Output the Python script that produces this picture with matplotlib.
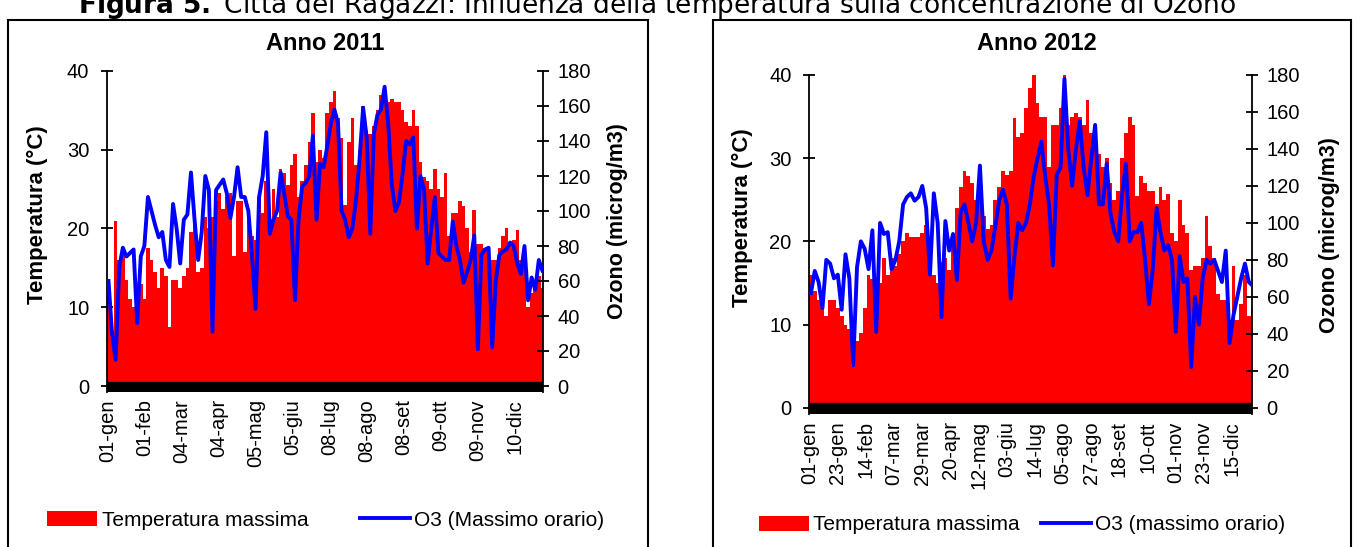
import matplotlib
matplotlib.use('Agg')
import matplotlib.pyplot as plt
from matplotlib.patches import Patch, Rectangle
from matplotlib.lines import Line2D

# values, one value every 3 days (bin)
BIN = 3

days_2011 = 365
temp_2011 = [12, 7, 21, 16, 17.5, 13.5, 11, 10, 10, 13,
             11, 17.5, 16, 14.5, 12.5, 15, 14, 7.5, 13.5, 13.5,
             12.5, 14, 15, 19.5, 22, 14.5, 15, 21.5, 20, 21.5,
             23.5, 24.5, 22.5, 24, 24.5, 16.5, 23.5, 23.5, 17, 22,
             19, 18.5, 24, 22, 26, 21, 25, 21.5, 27.5, 27,
             25.5, 28, 29.5, 24, 26, 28, 31, 34.7, 28.5, 30,
             29, 34.7, 36, 37.5, 34, 31.5, 23, 31, 34, 28,
             30, 35.5, 32.5, 32, 33, 35, 37, 37.6, 36, 36.5,
             36, 36, 35, 33.5, 33, 35, 33, 28.5, 26.5, 26,
             25, 27.5, 25, 24, 27, 19, 22, 22, 23.5, 22.8,
             20, 17, 22.4, 18, 18, 17.5, 17.3, 16, 16, 17.5,
             19, 20, 18, 18.5, 19.8, 16, 17.7, 10, 11.8, 13,
             14, 12.5]
ozone_2011 = [60, 30, 15, 68, 79, 74, 76, 78, 36, 74,
              80, 108, 100, 92, 85, 88, 72, 68, 104, 90,
              70, 95, 98, 122, 95, 72, 88, 120, 112, 31,
              112, 115, 118, 110, 96, 108, 125, 108, 108, 100,
              75, 44, 108, 120, 145, 87, 95, 100, 122, 110,
              97, 95, 49, 95, 114, 116, 120, 143, 95, 127,
              125, 137, 150, 158, 150, 100, 95, 85, 90, 106,
              129, 159, 142, 87, 144, 155, 158, 171, 150, 115,
              100, 105, 121, 140, 138, 142, 90, 120, 112, 70,
              90, 108, 76, 74, 72, 72, 94, 80, 72, 59,
              65, 72, 86, 21, 75, 78, 79, 22, 60, 75,
              77, 78, 82, 80, 70, 64, 80, 49, 62, 55,
              72, 66]
labels_2011 = ['01-gen', '01-feb', '04-mar', '04-apr', '05-mag', '05-giu',
               '08-lug', '08-ago', '08-set', '09-ott', '09-nov', '10-dic']
label_step_2011 = 31

days_2012 = 346
temp_2012 = [16, 14, 13, 12, 11, 13, 13, 12, 11, 10,
             9.5, 5, 8, 9, 12, 16, 15.5, 12, 15, 18,
             16, 18, 17, 18.5, 20, 21, 20.5, 20.5, 20.5, 21,
             22, 16, 16, 15, 17.5, 18, 16.5, 20.5, 24, 26.5,
             28.5, 27.8, 27, 25, 26, 23, 21.5, 22, 25, 26.5,
             28.5, 28, 28.5, 34.8, 32.5, 33, 36, 38.4, 40.2, 36.6,
             35, 35, 29, 34, 34, 36, 40.6, 34, 35, 35.4,
             35, 34, 37, 33, 34, 30.5, 29, 30, 27, 25,
             26, 30, 33, 35, 34, 25.5, 27.8, 27, 26, 26,
             24.5, 26.5, 25, 25.7, 21, 20, 25, 22, 21, 16.5,
             17, 17, 18, 23, 19.4, 18, 13.7, 13, 13, 10.5,
             17, 10.5, 12.5, 16, 11, 12]
ozone_2012 = [62, 74, 68, 54, 80, 78, 70, 72, 53, 83,
              70, 23, 76, 90, 86, 75, 96, 41, 100, 94,
              95, 75, 80, 90, 110, 114, 116, 112, 114, 120,
              108, 72, 116, 100, 49, 101, 85, 94, 69, 106,
              110, 100, 90, 100, 131, 90, 80, 85, 98, 112,
              118, 110, 59, 82, 100, 96, 100, 110, 125, 135,
              144, 125, 110, 77, 126, 130, 178, 140, 120, 140,
              155, 130, 115, 135, 153, 110, 110, 132, 105, 95,
              90, 115, 132, 90, 95, 95, 100, 80, 56, 75,
              108, 95, 85, 88, 80, 41, 82, 68, 70, 22,
              60, 45, 70, 80, 78, 80, 74, 68, 85, 35,
              50, 60, 70, 78, 68, 66]
labels_2012 = ['01-gen', '23-gen', '14-feb', '07-mar', '29-mar', '20-apr',
               '12-mag', '03-giu', '14-lug', '05-ago', '27-ago', '18-set',
               '10-ott', '01-nov', '23-nov', '15-dic']
label_step_2012 = 22

W, H = 1362, 547

plt.rcParams['font.family'] = ['Liberation Sans', 'DejaVu Sans']


def fx(px):
    return px / W


def fy(py):
    return 1 - py / H


def draw_panel(fig, rect, n_days, temps, ozone, labels, step, band_top):
    ax = fig.add_axes(rect)
    starts = [i * BIN for i in range(len(temps))]
    centres = [s + BIN / 2 for s in starts]

    ax.bar(starts, temps, width=BIN, align='edge', color='#ff0000',
           linewidth=0, zorder=2)
    ax.axhspan(-0.8, band_top, color='black', zorder=3)
    ax.set_xlim(0, n_days)
    ax.set_ylim(-0.8, 40)
    ax.set_yticks([0, 10, 20, 30, 40])
    ax.set_xticks([i * step + 0.5 for i in range(len(labels))])
    ax.set_xticklabels(labels, rotation=90)
    ax.tick_params(axis='x', length=0, pad=5, labelsize=14.5)
    ax.tick_params(axis='y', direction='inout', length=9, width=1.3,
                   pad=8, labelsize=14.5)
    for s in ['top', 'right', 'bottom']:
        ax.spines[s].set_visible(False)
    ax.spines['left'].set_linewidth(1.3)

    ax2 = ax.twinx()
    ax2.plot(centres, ozone, color='#0000ff', lw=2.8, zorder=4)
    ax2.set_xlim(0, n_days)
    ax2.set_ylim(-0.8 * 4.5, 180)
    ax2.set_yticks(range(0, 181, 20))
    ax2.tick_params(axis='y', direction='inout', length=9, width=1.3,
                    pad=6, labelsize=14.5)
    for s in ['top', 'left', 'bottom']:
        ax2.spines[s].set_visible(False)
    ax2.spines['right'].set_linewidth(1.3)
    return ax, ax2


fig = plt.figure(figsize=(W / 100, H / 100), dpi=100)

# panel frames
fig.add_artist(Rectangle((fx(8), -0.05), fx(640), fy(20) + 0.05,
                         transform=fig.transFigure, fill=False,
                         lw=1.5, edgecolor='black'))
fig.add_artist(Rectangle((fx(713), -0.05), fx(638), fy(20) + 0.05,
                         transform=fig.transFigure, fill=False,
                         lw=1.5, edgecolor='black'))

fig.text(fx(78), fy(13),
         r'$\bf{Figura\ 5.}$ Città dei Ragazzi: Influenza della temperatura sulla concentrazione di Ozono',
         fontsize=19, family='DejaVu Sans', va='baseline')

# 2011
ax_l, ax_l2 = draw_panel(fig, [fx(106.7), fy(392.3), fx(543 - 106.7), fy(71) - fy(392.3)],
                         days_2011, temp_2011, ozone_2011, labels_2011,
                         label_step_2011, 0.5)
fig.text(fx(325), fy(44), 'Anno 2011', fontsize=17, fontweight='bold',
         ha='center', va='center')
fig.text(fx(37), fy(215), 'Temperatura (°C)', fontsize=16, fontweight='bold',
         rotation=90, ha='center', va='center')
fig.text(fx(617), fy(221), 'Ozono (microg/m3)', fontsize=15.5, fontweight='bold',
         rotation=90, ha='center', va='center')

# 2012
ax_r, ax_r2 = draw_panel(fig, [fx(809), fy(414.4), fx(1252 - 809), fy(75) - fy(414.4)],
                         days_2012, temp_2012, ozone_2012, labels_2012,
                         label_step_2012, 0.55)
fig.text(fx(1037), fy(44), 'Anno 2012', fontsize=17, fontweight='bold',
         ha='center', va='center')
fig.text(fx(742), fy(218), 'Temperatura (°C)', fontsize=16, fontweight='bold',
         rotation=90, ha='center', va='center')
fig.text(fx(1330), fy(235), 'Ozono (microg/m3)', fontsize=15.5, fontweight='bold',
         rotation=90, ha='center', va='center')

# legends
red_patch = Patch(facecolor='#ff0000', edgecolor='none')
fig.legend([red_patch, Line2D([], [], color='#0000ff', lw=2.8)],
           ['Temperatura massima', 'O3 (Massimo orario)'],
           loc='center', bbox_to_anchor=(fx(326), fy(520)), ncol=2,
           frameon=False, fontsize=15, handlelength=2.4, handletextpad=0.2,
           columnspacing=2.5)
fig.legend([red_patch, Line2D([], [], color='#0000ff', lw=2.8)],
           ['Temperatura massima', 'O3 (massimo orario)'],
           loc='center', bbox_to_anchor=(fx(1022), fy(525)), ncol=2,
           frameon=False, fontsize=15, handlelength=2.4, handletextpad=0.2,
           columnspacing=1.0)

fig.savefig('out.png', dpi=100)
